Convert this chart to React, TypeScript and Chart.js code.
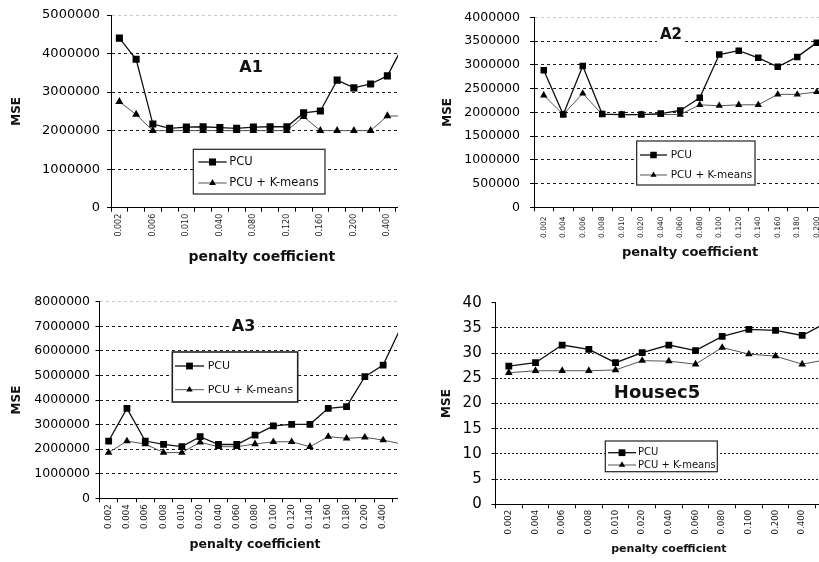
import React, { useEffect, useRef } from 'react';
import { Chart, registerables } from 'chart.js';

Chart.register(...registerables);

const FONT = "'DejaVu Sans', sans-serif";

// ---------- data ----------
const seriesNames = ['PCU', 'PCU + K-means'];

const a1Labels = ['0.002', '0.004', '0.006', '0.008', '0.010', '0.020', '0.040', '0.060', '0.080', '0.100', '0.120', '0.140', '0.160', '0.180', '0.200', '0.300', '0.400', '0.600'];
const a1Pcu = [4400000, 3850000, 2170000, 2060000, 2090000, 2100000, 2080000, 2060000, 2090000, 2100000, 2100000, 2460000, 2510000, 3310000, 3110000, 3210000, 3420000, 4250000];
const a1Kmeans = [2750000, 2420000, 2000000, 2000000, 2000000, 2000000, 2000000, 2000000, 2000000, 2000000, 2000000, 2360000, 2000000, 2000000, 2000000, 2000000, 2380000, 2380000];

const a2Labels = ['0.002', '0.004', '0.006', '0.008', '0.010', '0.020', '0.040', '0.060', '0.080', '0.100', '0.120', '0.140', '0.160', '0.180', '0.200', '0.400'];
const a2Pcu = [2890000, 1955000, 2980000, 1965000, 1955000, 1955000, 1975000, 2040000, 2310000, 3220000, 3300000, 3150000, 2960000, 3170000, 3470000];
const a2Kmeans = [2360000, 1955000, 2400000, 1955000, 1955000, 1955000, 1955000, 1955000, 2160000, 2140000, 2160000, 2160000, 2380000, 2380000, 2430000];

const a3Labels = ['0.002', '0.004', '0.006', '0.008', '0.010', '0.020', '0.040', '0.060', '0.080', '0.100', '0.120', '0.140', '0.160', '0.180', '0.200', '0.400', '0.600'];
const a3Pcu = [2330000, 3660000, 2330000, 2190000, 2100000, 2510000, 2190000, 2190000, 2570000, 2950000, 3010000, 3010000, 3660000, 3730000, 4950000, 5420000, 7000000];
const a3Kmeans = [1860000, 2330000, 2210000, 1860000, 1860000, 2280000, 2100000, 2100000, 2210000, 2300000, 2300000, 2100000, 2510000, 2440000, 2480000, 2370000, 2210000];

const h5Labels = ['0.002', '0.004', '0.006', '0.008', '0.010', '0.020', '0.040', '0.060', '0.080', '0.100', '0.200', '0.400', '0.600'];
const h5Pcu = [27.4, 28.1, 31.6, 30.75, 28.1, 30.1, 31.6, 30.5, 33.3, 34.7, 34.5, 33.5, 36.3];
const h5Kmeans = [26.1, 26.5, 26.5, 26.5, 26.65, 28.5, 28.4, 27.8, 31.1, 29.8, 29.4, 27.8, 28.8];

// ---------- panel layout / styling ----------
type LegendCfg = { x: number; y: number; w: number; h: number; rows: number[]; line: number[]; textX: number; size: number; border: number };
type PanelCfg = {
  title: string; titleX: number; titleY: number; titleSize: number; titleBg: boolean;
  labels: string[]; pcu: number[]; kmeans: number[];
  everyOther: boolean; shownLabels: number;
  left: number; top: number; clipW: number; clipH: number; canvasW: number;
  yW: number; padTop: number; padRight: number; xH: number;
  yMax: number; yStep: number; yFont: number; yPad: number; topGrid: string;
  xFont: number; xPad: number;
  xTitleSize: number; xTitlePad: number; yTitleSize: number; yTitlePad: number;
  sq: number; tri: number; dash: number[];
  legend: LegendCfg;
};

const panels: PanelCfg[] = [
  {
    title: 'A1', titleX: 251, titleY: 68, titleSize: 16, titleBg: false,
    labels: a1Labels, pcu: a1Pcu, kmeans: a1Kmeans, everyOther: true, shownLabels: 17,
    left: 0, top: 0, clipW: 398, clipH: 280, canvasW: 421,
    yW: 111, padTop: 15, padRight: 8.5, xH: 72.3,
    yMax: 5000000, yStep: 1000000, yFont: 13, yPad: 7, topGrid: '#c8c8c8',
    xFont: 8, xPad: 2,
    xTitleSize: 14, xTitlePad: 14.6, yTitleSize: 12, yTitlePad: 9.8,
    sq: 5, tri: 4.6, dash: [3, 3],
    legend: { x: 193.3, y: 149.3, w: 131.7, h: 44.7, rows: [162, 183], line: [198.3, 226.7], textX: 229.3, size: 11.5, border: 1.2 },
  },
  {
    title: 'A2', titleX: 261, titleY: 35, titleSize: 15, titleBg: true,
    labels: a2Labels, pcu: a2Pcu, kmeans: a2Kmeans, everyOther: false, shownLabels: 15,
    left: 410, top: 0, clipW: 409, clipH: 280, canvasW: 444,
    yW: 124, padTop: 11.7, padRight: 8, xH: 72.7,
    yMax: 4000000, yStep: 500000, yFont: 12.5, yPad: 10, topGrid: '#c8c8c8',
    xFont: 7.6, xPad: 5,
    xTitleSize: 13, xTitlePad: 20, yTitleSize: 12, yTitlePad: 30.8,
    sq: 4.6, tri: 4.2, dash: [3, 3],
    legend: { x: 226.7, y: 141, w: 118.3, h: 44, rows: [155, 175], line: [230, 257], textX: 260.7, size: 10.5, border: 1.2 },
  },
  {
    title: 'A3', titleX: 243.5, titleY: 46.7, titleSize: 16, titleBg: true,
    labels: a3Labels, pcu: a3Pcu, kmeans: a3Kmeans, everyOther: false, shownLabels: 16,
    left: 0, top: 280, clipW: 398, clipH: 282, canvasW: 419,
    yW: 99.5, padTop: 21.7, padRight: 8.4, xH: 63.7,
    yMax: 8000000, yStep: 1000000, yFont: 12.5, yPad: 5.5, topGrid: '#c8c8c8',
    xFont: 8.6, xPad: 2,
    xTitleSize: 12.5, xTitlePad: 9.5, yTitleSize: 12, yTitlePad: 9.8,
    sq: 4.8, tri: 4.4, dash: [3, 3],
    legend: { x: 172.3, y: 72, w: 125.4, h: 50, rows: [86, 109.7], line: [175, 204], textX: 207.7, size: 11, border: 1.6 },
  },
  {
    title: 'Housec5', titleX: 247, titleY: 113.3, titleSize: 18, titleBg: false,
    labels: h5Labels, pcu: h5Pcu, kmeans: h5Kmeans, everyOther: false, shownLabels: 12,
    left: 410, top: 280, clipW: 409, clipH: 282, canvasW: 440,
    yW: 85.5, padTop: 22.7, padRight: 7.8, xH: 57.7,
    yMax: 40, yStep: 5, yFont: 15, yPad: 9.8, topGrid: 'rgba(0,0,0,0)',
    xFont: 8.6, xPad: 1.5,
    xTitleSize: 11, xTitlePad: 6.4, yTitleSize: 12, yTitlePad: 29.8,
    sq: 4.8, tri: 4.4, dash: [2, 2],
    legend: { x: 195.3, y: 161, w: 112, h: 30.7, rows: [172.7, 185], line: [198, 226], textX: 228, size: 10, border: 1.2 },
  },
];

function drawMarker(ctx: CanvasRenderingContext2D, style: string, x: number, y: number, r: number) {
  ctx.beginPath();
  if (style === 'rect') {
    const s = Math.SQRT1_2 * r;
    ctx.rect(x - s, y - s, 2 * s, 2 * s);
  } else {
    const rt = r * 0.85;
    ctx.moveTo(x, y - rt);
    ctx.lineTo(x + rt * 0.866, y + rt * 0.5);
    ctx.lineTo(x - rt * 0.866, y + rt * 0.5);
    ctx.closePath();
  }
  ctx.fill();
}

const decorPlugin = {
  id: 'decor',
  afterDraw(chart: any, _args: any, opts: any) {
    const ctx: CanvasRenderingContext2D = chart.ctx;
    const cfg: PanelCfg = opts.cfg;
    if (!cfg) return;
    // chart title
    ctx.save();
    ctx.font = `bold ${cfg.titleSize}px ${FONT}`;
    const tw = ctx.measureText(cfg.title).width;
    if (cfg.titleBg) {
      ctx.fillStyle = '#fff';
      ctx.fillRect(cfg.titleX - tw / 2 - 3, cfg.titleY - cfg.titleSize / 2, tw + 6, cfg.titleSize);
    }
    ctx.fillStyle = '#111';
    ctx.textAlign = 'center';
    ctx.textBaseline = 'middle';
    ctx.fillText(cfg.title, cfg.titleX, cfg.titleY);
    ctx.restore();

    // legend box
    const L = cfg.legend;
    ctx.save();
    ctx.fillStyle = '#fff';
    ctx.fillRect(L.x, L.y, L.w, L.h);
    ctx.strokeStyle = '#222';
    ctx.lineWidth = L.border;
    ctx.strokeRect(L.x, L.y, L.w, L.h);
    ctx.font = `${L.size}px ${FONT}`;
    ctx.textAlign = 'left';
    ctx.textBaseline = 'middle';
    chart.data.datasets.forEach((ds: any, i: number) => {
      const y = L.rows[i];
      ctx.strokeStyle = ds.borderColor;
      ctx.lineWidth = ds.borderWidth;
      ctx.beginPath();
      ctx.moveTo(L.line[0], y);
      ctx.lineTo(L.line[1], y);
      ctx.stroke();
      ctx.fillStyle = ds.pointBackgroundColor;
      drawMarker(ctx, ds.pointStyle, (L.line[0] + L.line[1]) / 2, y, ds.pointRadius);
      ctx.fillStyle = '#111';
      ctx.fillText(ds.label, L.textX, y);
    });
    ctx.restore();
  },
};

function Panel({ cfg }: { cfg: PanelCfg }) {
  const ref = useRef<HTMLCanvasElement>(null);
  useEffect(() => {
    const canvas = ref.current;
    if (!canvas) return;
    const chart = new Chart(canvas, {
      type: 'line',
      data: {
        labels: cfg.labels,
        datasets: [
          {
            label: seriesNames[0],
            data: cfg.pcu,
            borderColor: '#111',
            borderWidth: 1.3,
            pointStyle: 'rect',
            pointRadius: cfg.sq,
            pointBorderWidth: 0,
            pointBackgroundColor: '#000',
            pointBorderColor: '#000',
            tension: 0,
          },
          {
            label: seriesNames[1],
            data: cfg.kmeans,
            borderColor: '#555',
            borderWidth: 1,
            pointStyle: 'triangle',
            pointRadius: cfg.tri,
            pointBorderWidth: 0,
            pointBackgroundColor: '#000',
            pointBorderColor: '#000',
            tension: 0,
          },
        ],
      },
      options: {
        animation: false,
        responsive: false,
        devicePixelRatio: 1,
        events: [],
        layout: { padding: { left: 0, top: cfg.padTop, right: cfg.padRight, bottom: 0 } },
        plugins: {
          legend: { display: false },
          tooltip: { enabled: false },
          decor: { cfg },
        } as any,
        scales: {
          x: {
            type: 'category',
            offset: true,
            afterFit: (s: any) => { s.height = cfg.xH; },
            grid: { drawOnChartArea: false, drawTicks: true, tickLength: 4, offset: true, tickColor: '#000', tickWidth: 1, tickBorderDash: [] } as any,
            border: { color: '#000', width: 1 },
            ticks: {
              autoSkip: false,
              minRotation: 90,
              maxRotation: 90,
              padding: cfg.xPad,
              color: '#1a1a1a',
              font: { family: FONT, size: cfg.xFont },
              callback: (_v: any, i: number) =>
                i >= cfg.shownLabels || (cfg.everyOther && i % 2 === 1) ? '' : cfg.labels[i],
            },
            title: {
              display: true,
              text: 'penalty coefficient',
              color: '#111',
              font: { family: FONT, size: cfg.xTitleSize, weight: 'bold' },
              padding: { top: 0, bottom: cfg.xTitlePad },
            },
          },
          y: {
            min: 0,
            max: cfg.yMax,
            afterFit: (s: any) => { s.width = cfg.yW; },
            grid: {
              color: (c: any) => (c.tick && c.tick.value === cfg.yMax ? cfg.topGrid : '#1e1e1e'),
              lineWidth: 1,
              drawTicks: true,
              tickLength: 4,
              tickColor: '#000',
              tickWidth: 1,
              tickBorderDash: [],
            } as any,
            border: { color: '#000', width: 1, dash: cfg.dash },
            ticks: {
              stepSize: cfg.yStep,
              padding: cfg.yPad,
              color: '#000',
              font: { family: FONT, size: cfg.yFont },
              callback: (v: any) => String(v),
            },
            title: {
              display: true,
              text: 'MSE',
              color: '#111',
              font: { family: FONT, size: cfg.yTitleSize, weight: 'bold' },
              padding: { top: cfg.yTitlePad, bottom: 0 },
            },
          },
        },
      },
      plugins: [decorPlugin as any],
    });
    return () => chart.destroy();
  }, [cfg]);
  return (
    <div style={{ position: 'absolute', left: cfg.left, top: cfg.top, width: cfg.clipW, height: cfg.clipH, overflow: 'hidden' }}>
      <canvas ref={ref} width={cfg.canvasW} height={cfg.clipH} style={{ display: 'block', width: cfg.canvasW, height: cfg.clipH }} />
    </div>
  );
}

export default function App() {
  return (
    <div style={{ position: 'absolute', left: 0, top: 0, width: 819, height: 562, background: '#fff', overflow: 'hidden' }}>
      {panels.map((p) => (
        <Panel key={p.title} cfg={p} />
      ))}
    </div>
  );
}
